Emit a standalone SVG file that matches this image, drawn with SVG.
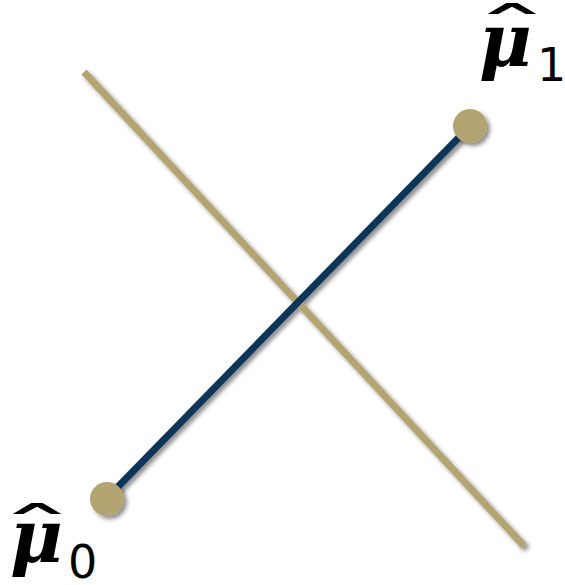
<svg xmlns="http://www.w3.org/2000/svg" width="565" height="585" viewBox="0 0 565 585">
<defs>
<style>
.mu{font-family:"DejaVu Serif",serif;font-weight:bold;font-style:italic;font-size:72px;fill:#000}
.sub{font-family:"DejaVu Sans",sans-serif;font-size:46px;fill:#000}
.hat{font-family:"DejaVu Sans",sans-serif;font-size:60px;fill:#000}
.dot{fill:#B3A471}
</style>
<filter id="sh" x="-30%" y="-30%" width="160%" height="160%">
<feDropShadow dx="3" dy="3" stdDeviation="2" flood-color="#000" flood-opacity="0.45"/>
</filter>
</defs>
<g id="connectors" filter="url(#sh)">
<line x1="84" y1="72" x2="524" y2="546" stroke="#B3A471" stroke-width="7"/>
<line x1="107" y1="498" x2="470" y2="126" stroke="#0B3558" stroke-width="7"/>
</g>
<g id="mu1">
<circle class="dot" cx="470" cy="126" r="17" filter="url(#sh)"/>
<text class="hat" transform="translate(512,51) scale(2.6,1)" text-anchor="middle">ˆ</text>
<text class="mu" x="479" y="66">μ</text>
<text class="sub" x="537" y="81">1</text>
</g>
<g id="mu0">
<circle class="dot" cx="107" cy="499" r="17" filter="url(#sh)"/>
<text class="hat" transform="translate(37,551) scale(2.6,1)" text-anchor="middle">ˆ</text>
<text class="mu" x="10" y="562">μ</text>
<text class="sub" x="68" y="578">0</text>
</g>
</svg>
